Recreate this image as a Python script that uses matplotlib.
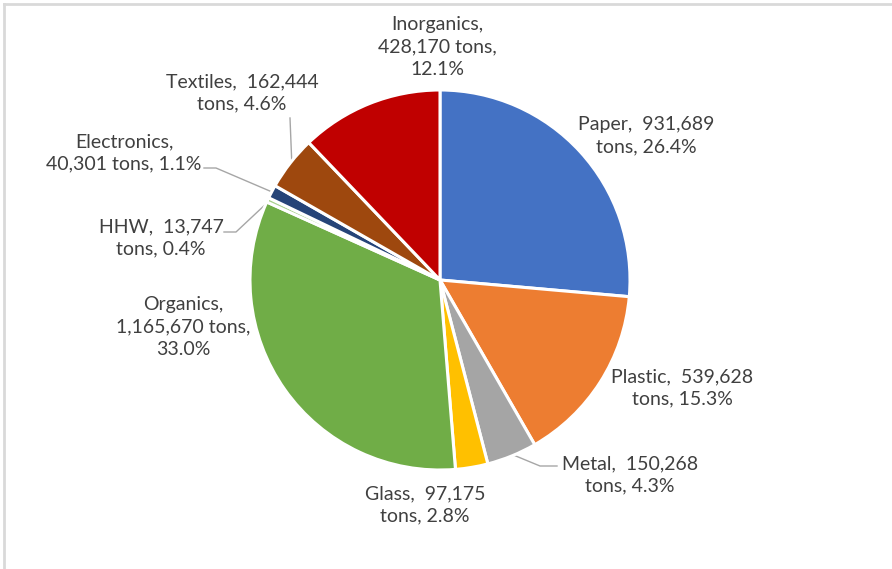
import matplotlib
matplotlib.use("Agg")
import matplotlib.pyplot as plt
import numpy as np

categories = ["Paper", "Plastic", "Metal", "Glass", "Organics", "HHW",
              "Electronics", "Textiles", "Inorganics"]
tons = [931689, 539628, 150268, 97175, 1165670, 13747, 40301, 162444, 428170]
colors = ["#4472C4", "#ED7D31", "#A5A5A5", "#FFC000", "#70AD47", "#A9D18E",
          "#264478", "#9E480E", "#C00000"]
labels = [
    "Paper,  931,689\ntons, 26.4%",
    "Plastic,  539,628\ntons, 15.3%",
    "Metal,  150,268\ntons, 4.3%",
    "Glass,  97,175\ntons, 2.8%",
    "Organics,\n1,165,670 tons,\n33.0%",
    "HHW,  13,747\ntons, 0.4%",
    "Electronics,\n40,301 tons, 1.1%",
    "Textiles,  162,444\ntons, 4.6%",
    "Inorganics,\n428,170 tons,\n12.1%",
]

W, H = 892, 569
plt.rcParams["font.family"] = ["Lato", "DejaVu Sans"]
fig = plt.figure(figsize=(W / 100, H / 100), dpi=100)
ax = fig.add_axes([0, 0, 1, 1])

def Y(y):
    return H - y

cx, cy, R = 440, Y(280), 190
wedges, _ = ax.pie(tons, colors=colors, startangle=90, counterclock=False,
                   center=(cx, cy), radius=R, explode=[0.012] * len(tons),
                   wedgeprops=dict(edgecolor="white", linewidth=2.2),
                   frame=True)
ax.set_xlim(0, W)
ax.set_ylim(0, H)
ax.set_aspect("equal")
ax.axis("off")

# label positions (pixel coords of text centre) and leader line anchors
label_pos = {
    "Paper": (646, 136),
    "Plastic": (682, 388),
    "Metal": (630, 475),
    "Glass": (425, 505),
    "Organics": (183, 327),
    "HHW": (161, 238),
    "Electronics": (124, 153),
    "Textiles": (242, 93),
    "Inorganics": (437, 47),
}
leader_start = {
    "HHW": [(224, 232), (236, 232)],
    "Electronics": [(204, 168), (216, 168)],
    "Textiles": [(290, 118)],
    "Metal": [(557, 466), (540, 466)],
}

txtc = "#404040"
for w, cat, lab in zip(wedges, categories, labels):
    x, y = label_pos[cat]
    ax.text(x, Y(y), lab, ha="center", va="center", fontsize=14,
            color=txtc, linespacing=1.38)
    if cat in leader_start:
        pts = [(px, Y(py)) for px, py in leader_start[cat]]
        ang = np.deg2rad((w.theta1 + w.theta2) / 2)
        wx, wy = w.center
        end = (wx + w.r * 0.99 * np.cos(ang), wy + w.r * 0.99 * np.sin(ang))
        pts.append(end)
        xs, ys = zip(*pts)
        ax.plot(xs, ys, color="#A6A6A6", lw=1.0, zorder=0.5)

# chart border (top and left visible)
ax.plot([4, W + 5], [Y(4), Y(4)], color="#D9D9D9", lw=2, clip_on=False)
ax.plot([4, 4], [Y(4), -5], color="#D9D9D9", lw=2, clip_on=False)

fig.savefig("out.png", dpi=100)
